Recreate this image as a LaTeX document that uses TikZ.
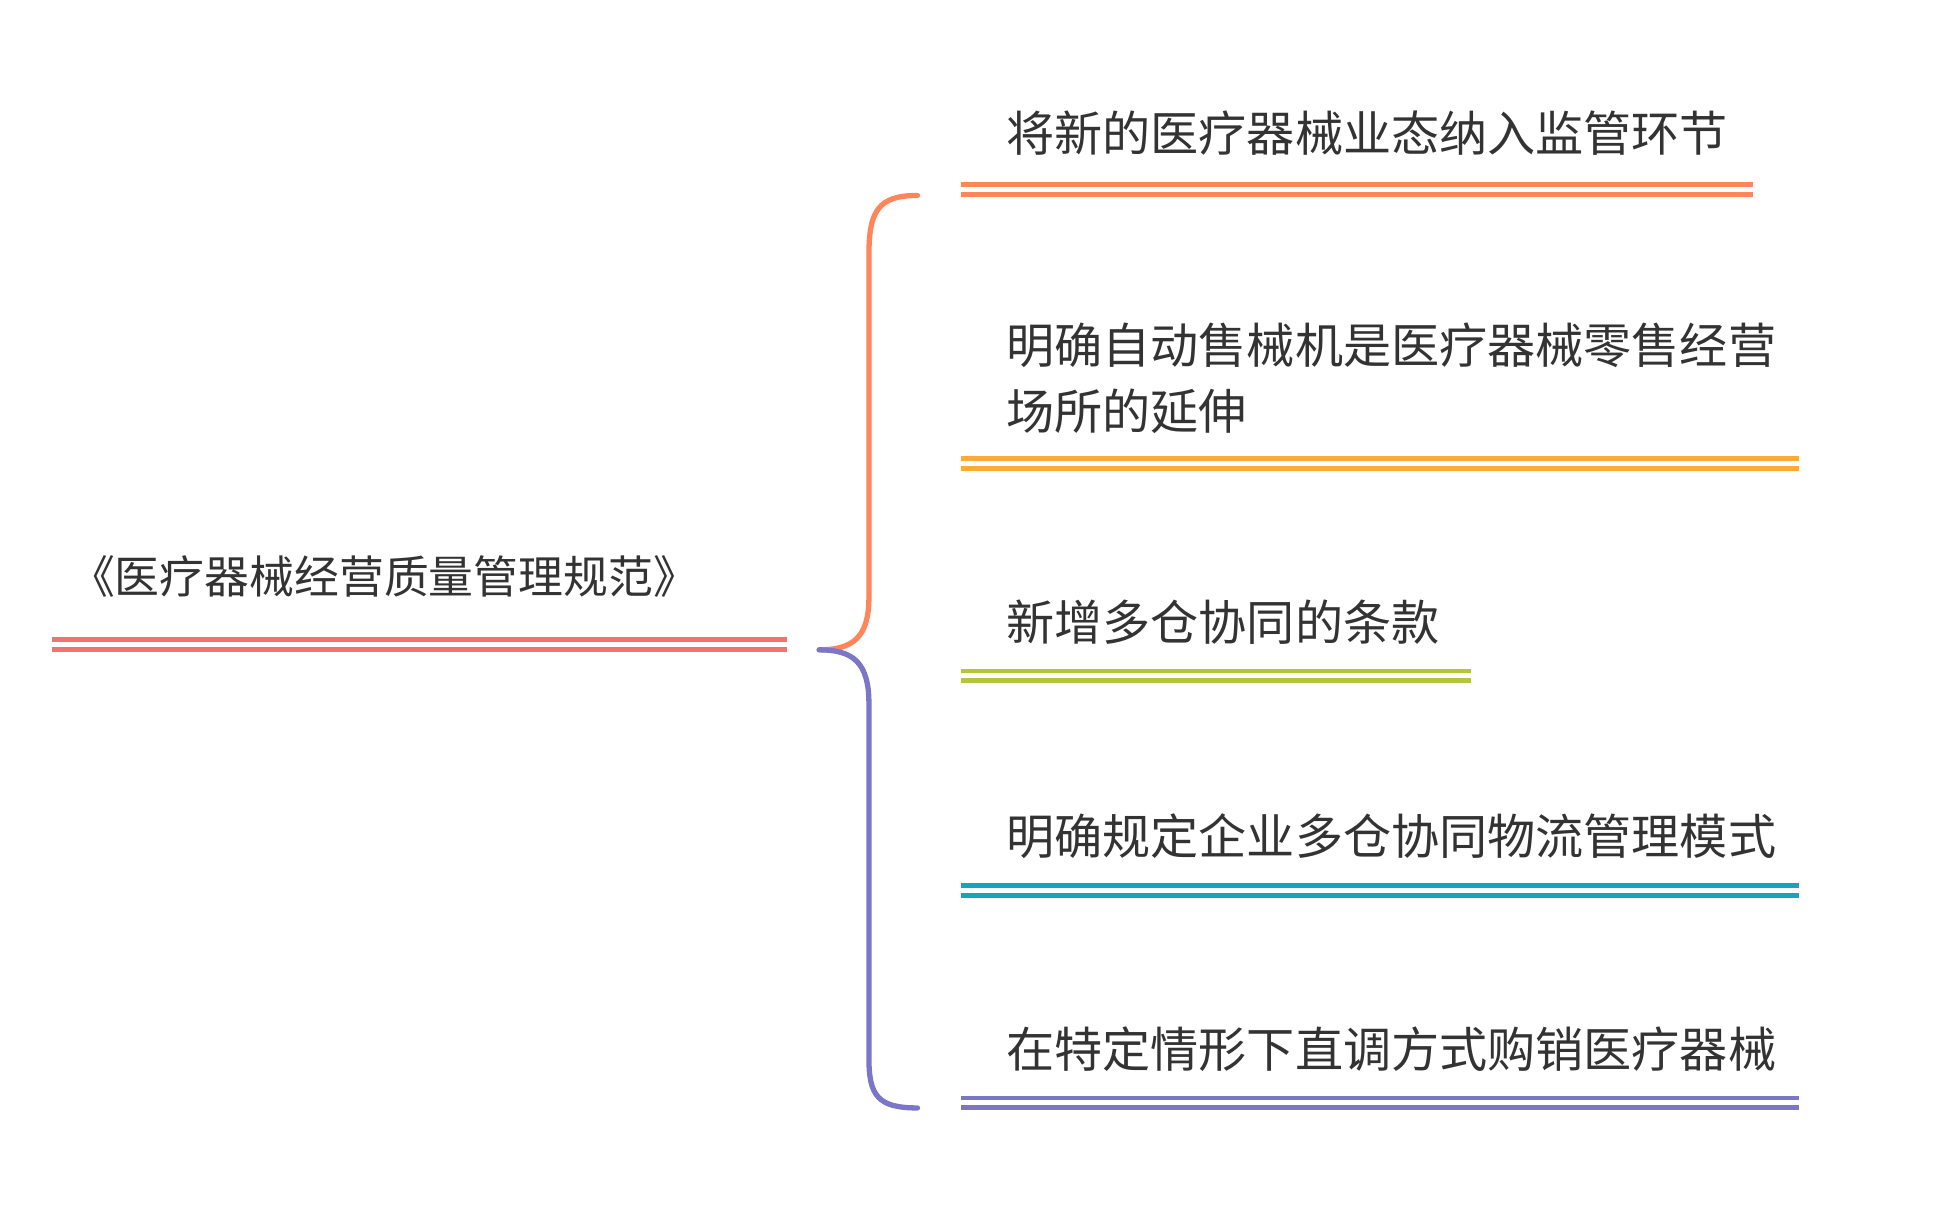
\documentclass[tikz,border=0pt]{standalone}
\usepackage{fontspec}
\newfontfamily\cjk{Noto Sans CJK SC}
\definecolor{cRoot}{HTML}{F07272}
\definecolor{cA}{HTML}{FF855A}
\definecolor{cB}{HTML}{FFAA38}
\definecolor{cC}{HTML}{B4C637}
\definecolor{cD}{HTML}{17A3BF}
\definecolor{cE}{HTML}{7B77C6}
\definecolor{txt}{HTML}{333333}
\begin{document}
\begin{tikzpicture}[x=0.02cm,y=-0.02cm,
  lbl/.style={anchor=west,inner sep=0,text=txt,font=\cjk\fontsize{22}{30}\selectfont,align=left},
  dl/.style={line width=0.08cm},
  brace/.style={line width=0.085cm,line cap=round}]
\useasboundingbox (0,0) rectangle (1560,978);
% root
\node[lbl,font=\cjk\fontsize{20.5}{26}\selectfont] (root) at (56,463) {《医疗器械经营质量管理规范》};
\coordinate (r1) at (42,514); \coordinate (r2) at (632,514);
\draw[dl,cRoot] (r1) -- (r2) ([yshift=-8*0.02cm]r1) -- ([yshift=-8*0.02cm]r2);
% children
\node[lbl] (a) at (808,107) {将新的医疗器械业态纳入监管环节};
\node[lbl] (b) at (808,304) {明确自动售械机是医疗器械零售经营\\场所的延伸};
\node[lbl] (c) at (808,500) {新增多仓协同的条款};
\node[lbl] (d) at (808,672) {明确规定企业多仓协同物流管理模式};
\node[lbl] (e) at (808,843) {在特定情形下直调方式购销医疗器械};
\foreach \n/\y/\xe/\c in {a/148/1408/cA, b/368/1445/cB, c/539/1182/cC, d/711/1445/cD, e/882/1445/cE}{
  \coordinate (\n1) at (772,\y); \coordinate (\n2) at (\xe,\y);
  \draw[dl,\c] (\n1) -- (\n2) ([yshift=-8*0.02cm]\n1) -- ([yshift=-8*0.02cm]\n2);
}
% brace
\coordinate (bm) at (658,522);
\coordinate (bt) at (737,157);
\coordinate (bb) at (737,890);
\draw[brace,cA] (bt) .. controls (705,157) and (698,170) .. (698,205) -- (698,480) .. controls (698,512) and (685,522) .. (bm);
\draw[brace,cE] (bm) .. controls (685,522) and (698,532) .. (698,565) -- (698,850) .. controls (698,880) and (705,890) .. (bb);
\end{tikzpicture}
\end{document}
